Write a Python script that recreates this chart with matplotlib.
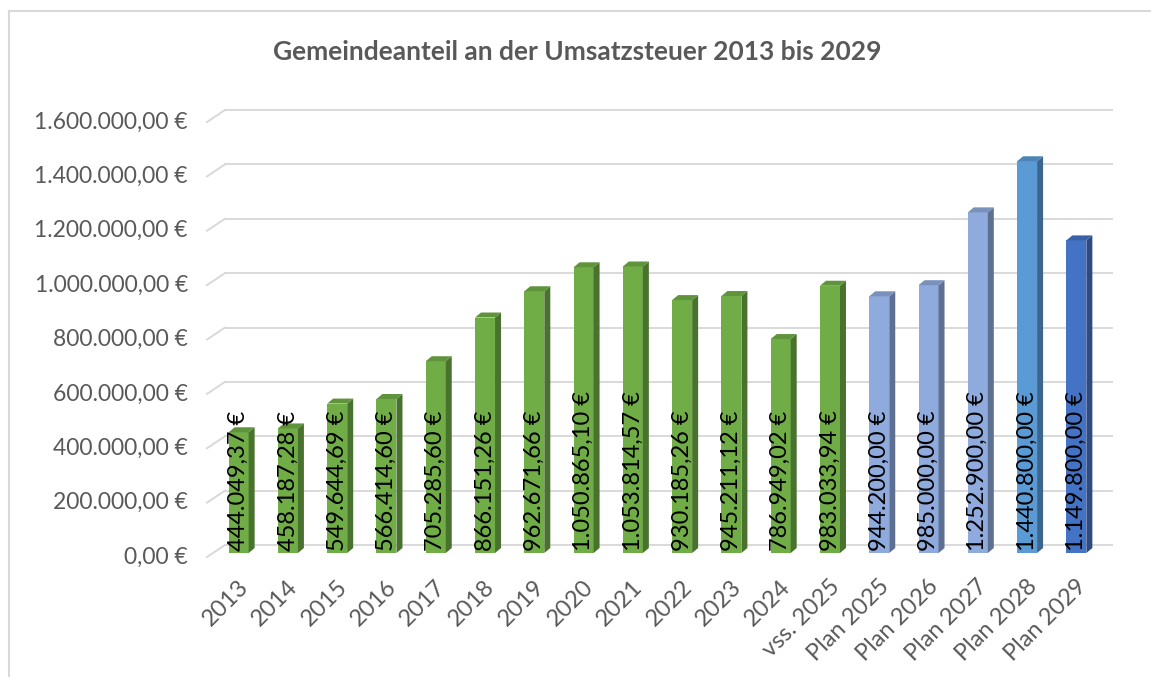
import numpy as np
import matplotlib.pyplot as plt
from matplotlib.patches import Polygon, Rectangle
from matplotlib.colors import to_rgb

plt.rcParams['font.family'] = ['Lato', 'DejaVu Sans']

title = "Gemeindeanteil an der Umsatzsteuer 2013 bis 2029"
categories = ["2013", "2014", "2015", "2016", "2017", "2018", "2019", "2020",
              "2021", "2022", "2023", "2024", "vss. 2025", "Plan 2025",
              "Plan 2026", "Plan 2027", "Plan 2028", "Plan 2029"]
values = [444049.37, 458187.28, 549644.69, 566414.60, 705285.60, 866151.26,
          962671.66, 1050865.10, 1053814.57, 930185.26, 945211.12, 786949.02,
          983033.94, 944200.00, 985000.00, 1252900.00, 1440800.00, 1149800.00]
labels = ["444.049,37 €", "458.187,28 €", "549.644,69 €", "566.414,60 €",
          "705.285,60 €", "866.151,26 €", "962.671,66 €", "1.050.865,10 €",
          "1.053.814,57 €", "930.185,26 €", "945.211,12 €", "786.949,02 €",
          "983.033,94 €", "944.200,00 €", "985.000,00 €", "1.252.900,00 €",
          "1.440.800,00 €", "1.149.800,00 €"]
colors = ["#70AD47"] * 13 + ["#8FAADC"] * 3 + ["#5B9BD5", "#4472C4"]
yticks = np.arange(0, 1600001, 200000)
ytick_labels = ["0,00 €", "200.000,00 €", "400.000,00 €", "600.000,00 €",
                "800.000,00 €", "1.000.000,00 €", "1.200.000,00 €",
                "1.400.000,00 €", "1.600.000,00 €"]

W, H = 1151, 677
fig = plt.figure(figsize=(W / 100, H / 100), dpi=100)
# back wall of the 3d plot area
x0, x1, y0, y1 = 225, 1112, 545, 110
ax = fig.add_axes([x0 / W, (H - y0) / H, (x1 - x0) / W, (y0 - y1) / H])
ax.set_xlim(0, len(categories))
ax.set_ylim(0, 1600000)
ax.axis("off")

c = (x1 - x0) / len(categories)   # px per category
k = (y0 - y1) / 1600000           # px per value unit


def px(dx, dy):
    # pixel offset -> data offset (dy positive = down)
    return dx / c, -dy / k


# gridlines on back wall plus oblique floor/side edge
fx, fy = px(-18, 12)
for v in yticks:
    ax.plot([0, len(categories)], [v, v], color="#d9d9d9", lw=1.4, clip_on=False, zorder=1)
    ax.plot([fx, 0], [v + fy, v], color="#d9d9d9", lw=1.4, clip_on=False, zorder=1)

lx, ly = px(-37, 12)
for v, t in zip(yticks, ytick_labels):
    ax.text(lx, v + ly, t, ha="right", va="center", fontsize=16.5, color="#595959")

# bars: front face, side and top
ox, oy = px(-11, 8)
bw = 20 / c
sx, sy = px(6, -5)
for i, (v, col) in enumerate(zip(values, colors)):
    rgb = np.array(to_rgb(col))
    left = i + 0.5 + ox - bw / 2
    ax.add_patch(Rectangle((left, oy), bw, v, facecolor=rgb, edgecolor="none",
                           clip_on=False, zorder=3))
    side = [(left + bw, oy), (left + bw + sx, oy + sy), (left + bw + sx, v + oy + sy), (left + bw, v + oy)]
    ax.add_patch(Polygon(side, facecolor=rgb * 0.66, edgecolor="none", clip_on=False, zorder=3))
    top = [(left, v + oy), (left + sx, v + oy + sy), (left + bw + sx, v + oy + sy), (left + bw, v + oy)]
    ax.add_patch(Polygon(top, facecolor=rgb * 0.85, edgecolor="none", clip_on=False, zorder=3))
    ax.text(left + bw / 2, oy + 2 / k, labels[i], rotation=90, ha="center", va="bottom",
            fontsize=17, color="black", zorder=4, clip_on=False)
    ax.text(left + bw / 2 - 1 / c, oy - 23 / k, categories[i], rotation=45, rotation_mode="anchor",
            ha="right", va="top", fontsize=17, color="#595959")

fig.text(577 / W, 1 - 52 / H, title, ha="center", va="center", fontsize=19,
         fontweight="bold", color="#595959")

# chart border (only top and left visible)
fig.add_artist(plt.Line2D([8.5 / W, 1], [1 - 11 / H, 1 - 11 / H], color="#d9d9d9", lw=1.5))
fig.add_artist(plt.Line2D([8.5 / W, 8.5 / W], [0, 1 - 11 / H], color="#d9d9d9", lw=1.5))

fig.savefig("out.png", dpi=100)
